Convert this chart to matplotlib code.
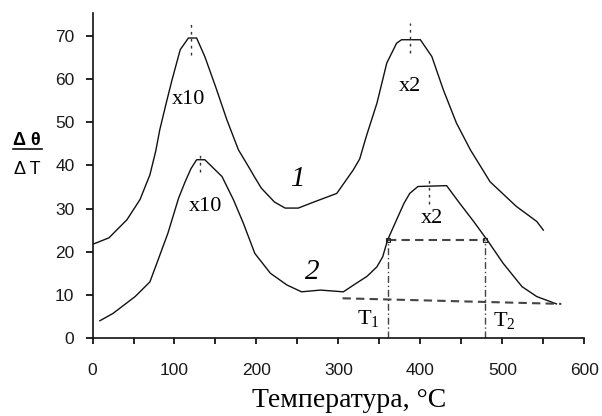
import matplotlib
matplotlib.use("Agg")
from matplotlib import pyplot as plt
from matplotlib.lines import Line2D
import numpy as np

plt.rcParams["mathtext.fontset"] = "custom"
plt.rcParams["mathtext.rm"] = "Liberation Serif"

# curve 1 (upper)
t1 = [0, 20, 42, 58, 70, 77, 82, 90, 97, 107, 117, 127, 137, 150, 164, 178, 190, 198,
      206, 222, 235, 251, 270, 298, 318, 326, 334, 347, 359, 371, 377, 400, 414, 428,
      444, 461, 485, 517, 542, 550]
y1 = [21.7, 23.2, 27.4, 32.1, 37.8, 43.2, 48.2, 54.5, 59.8, 66.8, 69.5, 69.5, 65.2,
      58.3, 50.5, 43.6, 39.8, 37.2, 34.7, 31.5, 30.1, 30.1, 31.5, 33.5, 38.9, 41.5,
      46.7, 54.4, 63.7, 68.3, 69.1, 69.1, 65.2, 57.5, 49.8, 43.6, 36.2, 30.5, 27.0, 25.0]

# curve 2 (lower)
t2 = [9, 25, 52, 70, 80, 92, 105, 113, 120, 127, 137, 158, 172, 184, 198, 217, 237,
      255, 278, 306, 322, 335, 347, 354, 360, 371, 380, 387, 397, 432, 448, 465, 483,
      501, 524, 542, 566]
y2 = [4.0, 5.7, 9.6, 13.0, 18.1, 24.3, 32.4, 36.2, 39.2, 41.3, 41.3, 37.4, 32.0, 26.6,
      19.6, 15.0, 12.3, 10.7, 11.1, 10.7, 12.7, 14.3, 16.5, 18.8, 22.7, 27.4, 31.2,
      33.5, 35.1, 35.3, 31.2, 27.0, 22.3, 17.3, 11.9, 9.6, 7.9]

# construction lines
T1, T2 = 360, 479
half_level = 22.8
base_t = [305, 572]
base_y = [9.2, 7.9]

# peak positions (marks through the maxima)
peak_t = [120, 387, 131, 411]
peak_lo = [65.5, 66.0, 38.5, 31.0]
peak_hi = [73.5, 73.0, 43.0, 36.8]

labels = [("x10", 117, 55.3), ("x10", 138, 30.5), ("x2", 387, 58.3), ("x2", 414, 27.6)]

fig = plt.figure(figsize=(6.02, 4.16), dpi=100)
ax = fig.add_axes([0.1537, 0.1875, 0.8169, 0.7813])

ax.plot(t1, y1, color="#111111", lw=1.0)
ax.plot(t2, y2, color="#111111", lw=1.0)

dash_col = "#444444"
ax.plot(base_t, base_y, color=dash_col, lw=1.5, ls=(0, (4, 2.5)))
ax.plot([T1, T2], [half_level, half_level], color=dash_col, lw=1.5, ls=(0, (4, 2.5)))
ax.plot([T1, T1], [0, half_level], color=dash_col, lw=1.0, ls=(0, (5, 2, 1, 2)))
ax.plot([T2, T2], [0, half_level], color=dash_col, lw=1.0, ls=(0, (5, 2, 1, 2)))
ax.plot([T1, T2], [half_level, half_level], ls="none", marker="s", ms=3,
        mfc="none", mec="#222222", mew=0.8)

for pt, lo, hi in zip(peak_t, peak_lo, peak_hi):
    ax.plot([pt, pt], [lo, hi], color="#333333", lw=1.0, ls=(0, (2, 3)))

serif = ["Liberation Serif", "DejaVu Serif"]
for txt, x, y in labels:
    ax.text(x, y, txt, family=serif, fontsize=16, ha="center", va="center")
ax.text(251, 36.8, "1", family=serif, fontsize=21, style="italic", ha="center", va="center")
ax.text(268, 15.3, "2", family=serif, fontsize=21, style="italic", ha="center", va="center")
ax.text(337, 4.4, r"$\mathrm{T}_1$", fontsize=16, ha="center", va="center")
ax.text(502, 4.0, r"$\mathrm{T}_2$", fontsize=16, ha="center", va="center")

ax.set_xlim(0, 600)
ax.set_ylim(0, 75.3)
ax.set_xticks(np.arange(0, 601, 100))
ax.set_xticks(np.arange(50, 600, 100), minor=True)
ax.set_yticks(np.arange(0, 71, 10))
for s in ["top", "right"]:
    ax.spines[s].set_visible(False)
for s in ["left", "bottom"]:
    ax.spines[s].set_linewidth(1.2)
    ax.spines[s].set_color("#111111")
ax.tick_params(axis="x", which="both", direction="out", length=4, width=1.2, pad=14,
               labelsize=12.5)
ax.tick_params(axis="y", direction="out", length=5, width=1.2, pad=8, labelsize=12.5)
for lab in ax.get_xticklabels() + ax.get_yticklabels():
    lab.set_family(["Liberation Sans", "DejaVu Sans"])
    lab.set_color("#1a1a1a")

ax.set_xlabel("Температура, °C", family=serif, fontsize=20)
ax.xaxis.set_label_coords(0.5226, -0.155)

# y label as a fraction
fig.text(0.045, 0.663, "Δ θ", family=["Liberation Sans", "DejaVu Sans"], fontsize=13,
         weight="bold", ha="center", va="center")
fig.text(0.045, 0.592, "Δ T", family=["Liberation Sans", "DejaVu Sans"], fontsize=13,
         ha="center", va="center")
fig.add_artist(Line2D([0.021, 0.070], [0.641, 0.641], color="#111111", lw=1.2))

fig.savefig("out.png", dpi=100)
